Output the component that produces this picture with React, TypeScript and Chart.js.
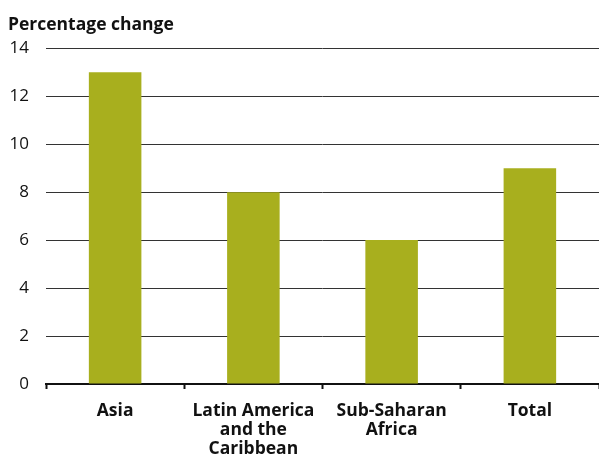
import React, { useEffect, useRef } from "react";
import { Chart, registerables } from "chart.js";

Chart.register(...registerables);

const categories: (string | string[])[] = [
  "Asia",
  ["Latin America", "and the", "Caribbean"],
  ["Sub-Saharan", "Africa"],
  "Total",
];
const values = [13, 8, 6, 9];
const yTicks = [0, 2, 4, 6, 8, 10, 12, 14];
const titleText = "Percentage change";
const barColor = "#a8af1e";
const fontFamily = "'Open Sans', 'Noto Sans', sans-serif";

export default function App() {
  const ref = useRef<HTMLCanvasElement | null>(null);
  useEffect(() => {
    if (!ref.current) return;
    const chart = new Chart(ref.current, {
      type: "bar",
      data: {
        labels: categories,
        datasets: [
          {
            data: values,
            backgroundColor: barColor,
            borderWidth: 0,
            categoryPercentage: 1,
            barPercentage: 0.38,
          },
        ],
      },
      options: {
        animation: false,
        responsive: false,
        maintainAspectRatio: false,
        layout: { padding: { left: 8, right: 0, top: 15, bottom: 0 } },
        plugins: {
          legend: { display: false },
          tooltip: { enabled: false },
          title: {
            display: true,
            text: titleText,
            align: "start",
            color: "#111",
            font: { family: fontFamily, size: 17.5, weight: "bold", lineHeight: 1.1 },
            padding: { top: 0, bottom: 14 },
          },
        },
        scales: {
          x: {
            offset: true,
            afterFit: (axis: any) => {
              axis.height = 71;
            },
            grid: {
              display: true,
              offset: true,
              drawOnChartArea: false,
              drawTicks: true,
              tickLength: 5,
              tickWidth: 2,
              tickColor: "#111",
            },
            border: { display: true, color: "#111", width: 2 },
            ticks: {
              color: "#111",
              padding: 12,
              maxRotation: 0,
              autoSkip: false,
              font: { family: fontFamily, size: 17.5, weight: "bold", lineHeight: 1.09 },
            },
          },
          y: {
            min: 0,
            max: 14,
            afterBuildTicks: (axis: any) => {
              axis.ticks = yTicks.map((v) => ({ value: v }));
            },
            afterFit: (axis: any) => {
              axis.width = 38;
            },
            grid: {
              color: (ctx: any) => (ctx.tick && ctx.tick.value === 0 ? "rgba(0,0,0,0)" : "#333"),
              lineWidth: 1,
              drawTicks: false,
            },
            border: { display: false },
            ticks: {
              color: "#111",
              padding: 17,
              font: { family: fontFamily, size: 17 },
            },
          },
        },
      },
    });
    return () => chart.destroy();
  }, []);
  return (
    <div style={{ position: "fixed", left: 0, top: 0, width: 599, height: 455, background: "#fff" }}>
      <canvas ref={ref} width={599} height={455} style={{ width: 599, height: 455 }} />
    </div>
  );
}
